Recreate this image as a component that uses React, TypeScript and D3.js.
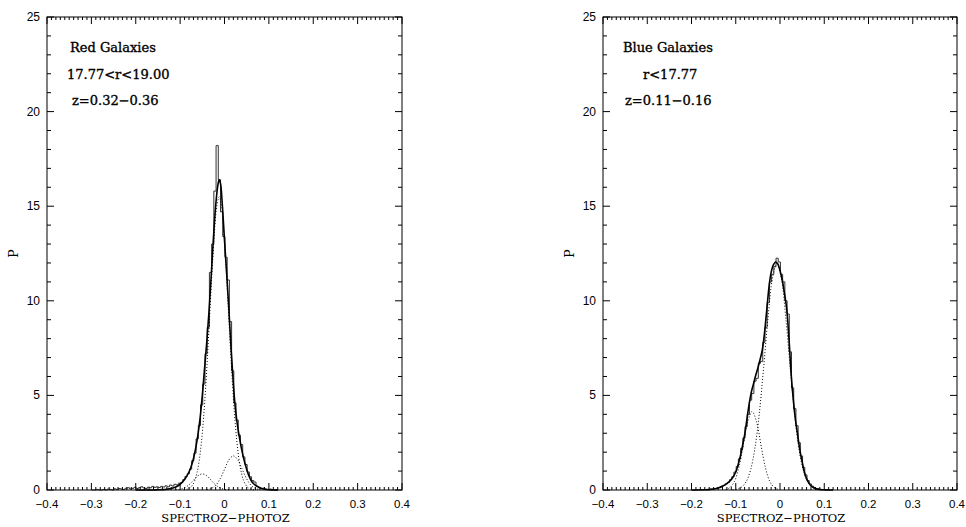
import React from 'react';
import * as d3 from 'd3';

// ---- data ----
const xTickValues = [-0.4, -0.3, -0.2, -0.1, 0, 0.1, 0.2, 0.3, 0.4];
const xTickLabels = ['\u22120.4', '\u22120.3', '\u22120.2', '\u22120.1', '0', '0.1', '0.2', '0.3', '0.4'];
const yTickValues = [0, 5, 10, 15, 20, 25];
const yTickLabels = ['0', '5', '10', '15', '20', '25'];

const binWidth = 0.005;

// red galaxies: histogram (left edge of first bin = redBinStart)
const redBinStart = -0.299;
const redHist = [
  0, 0, 0.03, 0, 0, 0.03, 0, 0.05, 0.03, 0,
  0.06, 0.03, 0.08, 0.05, 0.03, 0.09, 0.12, 0.06, 0.09, 0.14,
  0.08, 0.12, 0.17, 0.11, 0.08, 0.15, 0.12, 0.19, 0.14, 0.17,
  0.13, 0.19, 0.16, 0.22, 0.17, 0.26, 0.21, 0.3, 0.27, 0.36,
  0.4, 0.55, 0.72, 0.86, 1.1, 1.55, 1.95, 2.7, 3.4, 4.5,
  5.6, 7.2, 8.6, 11.5, 13.0, 15.8, 18.2, 16.4, 14.7, 13.4,
  12.3, 11.1, 8.9, 6.3, 4.6, 3.7, 2.9, 2.4, 1.75, 1.35,
  0.95, 0.7, 0.5, 0.42, 0.2, 0.12, 0.08, 0.1, 0.05, 0.03,
  0.05, 0.02, 0, 0,
];

// red galaxies: total fit
const redFit: [number, number][] = [
  [-0.2, 0], [-0.16, 0], [-0.15, 0.01], [-0.14, 0.02], [-0.13, 0.04], [-0.12, 0.08], [-0.11, 0.16],
  [-0.1, 0.3], [-0.09, 0.55], [-0.08, 0.95], [-0.075, 1.25], [-0.07, 1.65], [-0.065, 2.2],
  [-0.06, 2.9], [-0.055, 3.8], [-0.05, 5.0], [-0.045, 6.4], [-0.04, 7.8], [-0.035, 9.4],
  [-0.03, 11.3], [-0.025, 13.3], [-0.02, 15.0], [-0.015, 16.1], [-0.012, 16.4], [-0.009, 16.2],
  [-0.005, 15.1], [0, 13.2], [0.005, 11.4], [0.01, 9.5], [0.015, 7.4], [0.02, 5.6], [0.025, 4.2],
  [0.03, 3.3], [0.035, 2.6], [0.04, 2.0], [0.045, 1.5], [0.05, 1.1], [0.055, 0.75], [0.06, 0.5],
  [0.065, 0.34], [0.07, 0.24], [0.075, 0.18], [0.08, 0.12], [0.09, 0.04], [0.1, 0.01], [0.12, 0],
];

// red galaxies: fit components
const redMain: [number, number][] = [
  [-0.092, 0.011], [-0.087, 0.026], [-0.082, 0.06], [-0.077, 0.128], [-0.072, 0.26], [-0.067, 0.5],
  [-0.062, 0.91], [-0.057, 1.56], [-0.052, 2.53], [-0.047, 3.87], [-0.042, 5.59], [-0.037, 7.63],
  [-0.032, 9.85], [-0.027, 12.0], [-0.022, 13.84], [-0.017, 15.07], [-0.012, 15.5], [-0.007, 15.07],
  [-0.002, 13.84], [0.003, 12.0], [0.008, 9.85], [0.013, 7.63], [0.018, 5.59], [0.023, 3.87],
  [0.028, 2.53], [0.033, 1.56], [0.038, 0.91], [0.043, 0.5], [0.048, 0.26], [0.053, 0.128],
  [0.058, 0.06], [0.063, 0.026], [0.068, 0.011],
];
const redRedTail: [number, number][] = [
  [-0.04, 0.02], [-0.03, 0.079], [-0.02, 0.24], [-0.01, 0.59], [0, 1.09], [0.01, 1.59], [0.02, 1.8],
  [0.03, 1.59], [0.04, 1.09], [0.05, 0.59], [0.06, 0.24], [0.07, 0.079], [0.08, 0.02],
];
const redBlueTail: [number, number][] = [
  [-0.11, 0.009], [-0.1, 0.037], [-0.09, 0.115], [-0.08, 0.275], [-0.07, 0.515], [-0.06, 0.75],
  [-0.05, 0.85], [-0.04, 0.75], [-0.03, 0.515], [-0.02, 0.275], [-0.01, 0.115], [0, 0.037], [0.01, 0.009],
];

// blue galaxies
const blueBinStart = -0.169;
const blueHist = [
  0.02, 0.03, 0.05, 0.04, 0.08, 0.1, 0.14, 0.2, 0.24, 0.33,
  0.4, 0.55, 0.7, 0.95, 1.25, 1.65, 2.2, 2.75, 3.35, 4.0,
  4.75, 5.1, 5.75, 5.9, 6.7, 6.8, 7.8, 8.6, 9.9, 11.0,
  11.4, 11.8, 12.25, 12.05, 11.4, 11.0, 10.0, 9.3, 7.3, 5.4,
  4.3, 3.4, 2.5, 1.8, 1.2, 0.8, 0.5, 0.32, 0.2, 0.12,
  0.08, 0.05, 0.03, 0.02, 0, 0,
];
const blueFit: [number, number][] = [
  [-0.2, 0], [-0.17, 0.01], [-0.16, 0.02], [-0.15, 0.05], [-0.14, 0.1], [-0.13, 0.2], [-0.12, 0.34],
  [-0.11, 0.55], [-0.1, 0.95], [-0.09, 1.75], [-0.085, 2.3], [-0.08, 2.9], [-0.075, 3.7],
  [-0.07, 4.5], [-0.065, 5.15], [-0.06, 5.6], [-0.055, 6.05], [-0.05, 6.45], [-0.045, 6.9],
  [-0.04, 7.4], [-0.035, 8.3], [-0.03, 9.5], [-0.025, 10.7], [-0.02, 11.5], [-0.015, 11.9],
  [-0.01, 12.05], [-0.005, 11.95], [0, 11.6], [0.005, 11.1], [0.01, 10.4], [0.015, 9.6],
  [0.02, 8.1], [0.025, 6.2], [0.03, 4.8], [0.035, 3.7], [0.04, 2.9], [0.045, 2.1], [0.05, 1.5],
  [0.055, 0.95], [0.06, 0.6], [0.065, 0.38], [0.07, 0.22], [0.08, 0.08], [0.09, 0.03], [0.1, 0.01], [0.12, 0],
];
const blueMain: [number, number][] = [
  [-0.107, 0.013], [-0.097, 0.046], [-0.087, 0.149], [-0.077, 0.42], [-0.067, 1.02], [-0.057, 2.16],
  [-0.047, 4.0], [-0.037, 6.47], [-0.027, 9.12], [-0.017, 11.2], [-0.007, 12.0], [0.003, 11.2],
  [0.013, 9.12], [0.023, 6.47], [0.033, 4.0], [0.043, 2.16], [0.053, 1.02], [0.063, 0.42],
  [0.073, 0.149], [0.083, 0.046], [0.093, 0.013],
];
const blueTail: [number, number][] = [
  [-0.123, 0.028], [-0.113, 0.131], [-0.103, 0.45], [-0.093, 1.19], [-0.083, 2.38], [-0.073, 3.61],
  [-0.063, 4.15], [-0.053, 3.61], [-0.043, 2.38], [-0.033, 1.19], [-0.023, 0.45], [-0.013, 0.131],
  [-0.003, 0.028],
];

const serif = '"DejaVu Serif", "Liberation Serif", serif';
const sans = '"Liberation Sans", Arial, sans-serif';

type Pt = [number, number];

function Panel({ x0, x1, hist, start, fit, comps, notes }: {
  x0: number; x1: number; hist: number[]; start: number; fit: Pt[]; comps: Pt[][];
  notes: { text: string; x: number; y: number }[];
}) {
  const top = 17, bottom = 490;
  const x = d3.scaleLinear().domain([-0.4, 0.4]).range([x0, x1]);
  const y = d3.scaleLinear().domain([0, 25]).range([bottom, top]);

  const stepPts: Pt[] = [[start, 0]];
  hist.forEach((v, i) => {
    const e = start + i * binWidth;
    stepPts.push([e, v], [e + binWidth, v]);
  });
  stepPts.push([start + hist.length * binWidth, 0]);
  const straight = d3.line<Pt>().x(d => x(d[0])).y(d => y(d[1]));
  const smooth = d3.line<Pt>().x(d => x(d[0])).y(d => y(d[1])).curve(d3.curveCatmullRom);

  const xMinor = d3.range(-40, 41).map(i => i / 100);
  const yMinor = d3.range(0, 26);

  return (
    <g>
      {/* curves */}
      <path d={straight(stepPts) || ''} fill="none" stroke="#333" strokeWidth={1} />
      {comps.map((c, i) => (
        <path key={i} d={smooth(c) || ''} fill="none" stroke="#000" strokeWidth={1} strokeDasharray="1 2" />
      ))}
      <path d={smooth(fit) || ''} fill="none" stroke="#000" strokeWidth={1.6} />

      {/* frame */}
      <rect x={x0} y={top} width={x1 - x0} height={bottom - top} fill="none" stroke="#000" strokeWidth={1} />

      {/* x ticks, bottom and top */}
      {xMinor.map((v, i) => {
        const major = Math.abs(v * 10 - Math.round(v * 10)) < 1e-6;
        const len = major ? 7 : 3;
        return (
          <g key={'x' + i} stroke="#000" strokeWidth={1}>
            <line x1={x(v)} x2={x(v)} y1={bottom} y2={bottom - len} />
            <line x1={x(v)} x2={x(v)} y1={top} y2={top + len} />
          </g>
        );
      })}
      {yMinor.map(v => {
        const len = v % 5 === 0 ? 7 : 4;
        return (
          <g key={'y' + v} stroke="#000" strokeWidth={1}>
            <line x1={x0} x2={x0 + len} y1={y(v)} y2={y(v)} />
            <line x1={x1} x2={x1 - len} y1={y(v)} y2={y(v)} />
          </g>
        );
      })}

      {/* tick labels */}
      {xTickValues.map((v, i) => (
        <text key={'xl' + i} x={x(v)} y={507.5} textAnchor="middle" fontFamily={sans} fontSize={11.5}>
          {xTickLabels[i]}
        </text>
      ))}
      {yTickValues.map((v, i) => (
        <text key={'yl' + i} x={x0 - 7} y={y(v) + 4} textAnchor="end" fontFamily={sans} fontSize={12}>
          {yTickLabels[i]}
        </text>
      ))}

      {/* titles */}
      <text x={(x0 + x1) / 2 + 1} y={522} textAnchor="middle" fontFamily={serif} fontSize={11.5}>
        SPECTROZ{'\u2212'}PHOTOZ
      </text>
      <text transform={`translate(${x0 - 29},${(top + bottom) / 2}) rotate(-90)`} textAnchor="middle"
        fontFamily={serif} fontSize={12.5}>P</text>

      {notes.map((n, i) => (
        <text key={'n' + i} x={x0 + n.x} y={n.y} fontFamily={serif} fontSize={13}
          stroke="#000" strokeWidth={0.35}>{n.text}</text>
      ))}
    </g>
  );
}

export default function App() {
  return (
    <div style={{ position: 'fixed', left: 0, top: 0, background: '#fff' }}>
      <svg width={966} height={527} style={{ display: 'block' }}>
        <rect width={966} height={527} fill="#fff" />
        <Panel x0={47} x1={402} hist={redHist} start={redBinStart} fit={redFit}
          comps={[redMain, redRedTail, redBlueTail]}
          notes={[
            { text: 'Red Galaxies', x: 23, y: 52 },
            { text: '17.77<r<19.00', x: 20, y: 79 },
            { text: 'z=0.32\u22120.36', x: 25, y: 105 },
          ]} />
        <Panel x0={603} x1={957} hist={blueHist} start={blueBinStart} fit={blueFit}
          comps={[blueMain, blueTail]}
          notes={[
            { text: 'Blue Galaxies', x: 20, y: 52 },
            { text: 'r<17.77', x: 40, y: 79 },
            { text: 'z=0.11\u22120.16', x: 22, y: 105 },
          ]} />
      </svg>
    </div>
  );
}
